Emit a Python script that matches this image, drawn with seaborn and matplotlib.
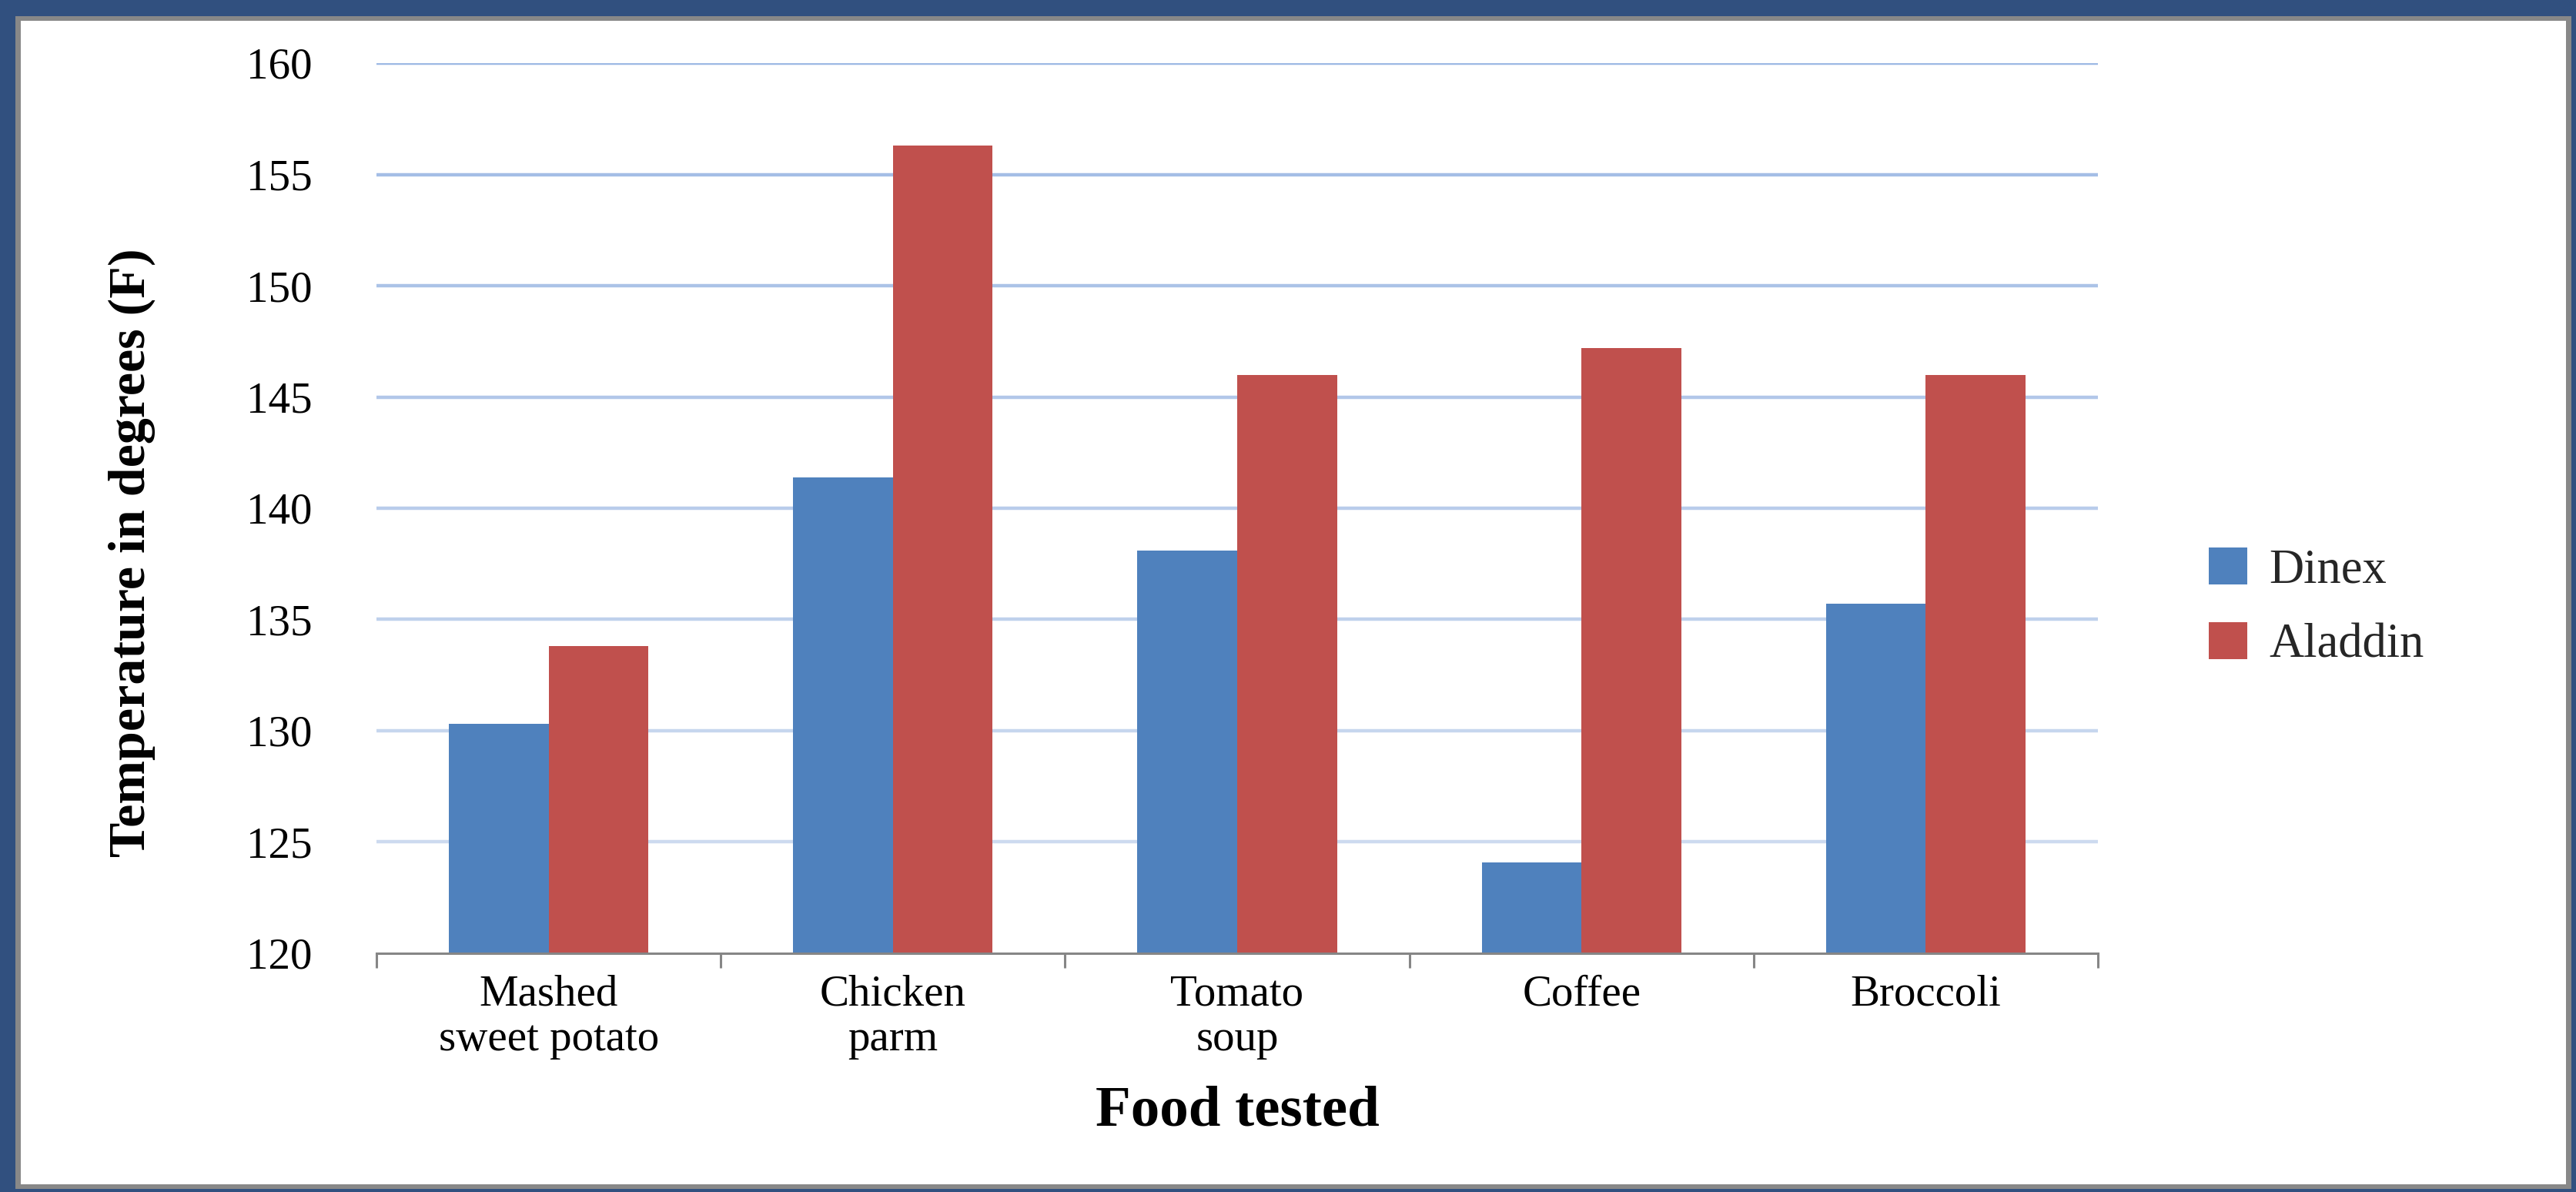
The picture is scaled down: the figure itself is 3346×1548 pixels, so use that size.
import numpy as np
import pandas as pd
import matplotlib
matplotlib.use("Agg")
import matplotlib.pyplot as plt
import seaborn as sns
from matplotlib.patches import Rectangle
from matplotlib.colors import to_rgb

# ---- data ----
foods = ["Mashed\nsweet potato", "Chicken\nparm", "Tomato\nsoup", "Coffee", "Broccoli"]
series_names = ["Dinex", "Aladdin"]
dinex = [130.3, 141.4, 138.1, 124.1, 135.7]
aladdin = [133.8, 156.3, 146.0, 147.2, 146.0]
y_ticks = [120, 125, 130, 135, 140, 145, 150, 155, 160]

df = pd.DataFrame({
    "food": foods * 2,
    "series": [series_names[0]] * len(foods) + [series_names[1]] * len(foods),
    "temp": dinex + aladdin,
})

sns.set_theme(style="white")
plt.rcParams["font.family"] = ["Liberation Serif", "DejaVu Serif"]

W, H, DPI = 3346, 1548, 100
fig = plt.figure(figsize=(W / DPI, H / DPI), dpi=DPI)

# frame decoration
fig.patches.append(Rectangle((0, 0), 1, 1, transform=fig.transFigure,
                             facecolor="#31507F", edgecolor="none", zorder=-10))
fig.patches.append(Rectangle((20 / W, 4 / H), (3340 - 20) / W, (1548 - 4 - 21) / H,
                             transform=fig.transFigure, facecolor="#888888",
                             edgecolor="none", zorder=-9))
fig.patches.append(Rectangle((27 / W, 10 / H), (3333 - 27) / W, (1548 - 10 - 27) / H,
                             transform=fig.transFigure, facecolor="white",
                             edgecolor="none", zorder=-8))

left, right, top, bottom = 489, 2725, 82, 1238
ax = fig.add_axes([left / W, 1 - bottom / H, (right - left) / W, (bottom - top) / H])
ax.set_facecolor("none")

palette = {"Dinex": "#4F81BD", "Aladdin": "#C0504D"}
sns.barplot(data=df, x="food", y="temp", hue="series", order=foods,
            hue_order=series_names, palette=palette, width=0.58, gap=0,
            saturation=1, ax=ax, legend=True, zorder=3)
for p in ax.patches:
    p.set_edgecolor("none")
    p.set_linewidth(0)

ax.set_ylim(120, 160)
ax.set_xlim(-0.5, len(foods) - 0.5)
ax.set_yticks(y_ticks)
ax.set_yticklabels([str(t) for t in y_ticks])

# gridlines with gradient colour
c_top = np.array(to_rgb("#9DB9E4"))
c_bot = np.array(to_rgb("#D4DFF1"))
for t in y_ticks[1:]:
    f = (t - 120) / 40
    col = c_bot + (c_top - c_bot) * f
    ax.axhline(t, color=col, lw=3.2, zorder=1)

for s in ["left", "right", "top"]:
    ax.spines[s].set_visible(False)
ax.spines["bottom"].set_color("#868686")
ax.spines["bottom"].set_linewidth(2.2)
ax.spines["bottom"].set_zorder(4)

ax.set_xticks(np.arange(-0.5, len(foods), 1.0), minor=True)
ax.tick_params(axis="x", which="minor", length=14, width=2.2, color="#868686", bottom=True)
ax.tick_params(axis="x", which="major", length=0, pad=20, labelsize=41, labelcolor="black")
ax.tick_params(axis="y", which="major", length=0, pad=60, labelsize=41, labelcolor="black")
for lbl in ax.get_xticklabels():
    lbl.set_linespacing(1.15)

ax.set_xlabel("Food tested", fontsize=54, fontweight="bold", color="black")
ax.xaxis.set_label_coords(0.5, -0.148)
ax.set_ylabel("Temperature in degrees (F)", fontsize=49, fontweight="bold",
              color="black", va="center")
ax.yaxis.set_label_coords(-0.142, 0.45)

ax.get_legend().remove()
handles = [Rectangle((0, 0), 1, 1, facecolor=palette[n], edgecolor="none") for n in series_names]
fig.legend(handles, series_names, loc="center left", bbox_to_anchor=(2838 / W, 0.49),
           frameon=False, fontsize=45, handlelength=0.8, handleheight=0.8,
           handletextpad=0.45, labelspacing=0.6, borderpad=0)

fig.savefig("out.png", dpi=DPI)
